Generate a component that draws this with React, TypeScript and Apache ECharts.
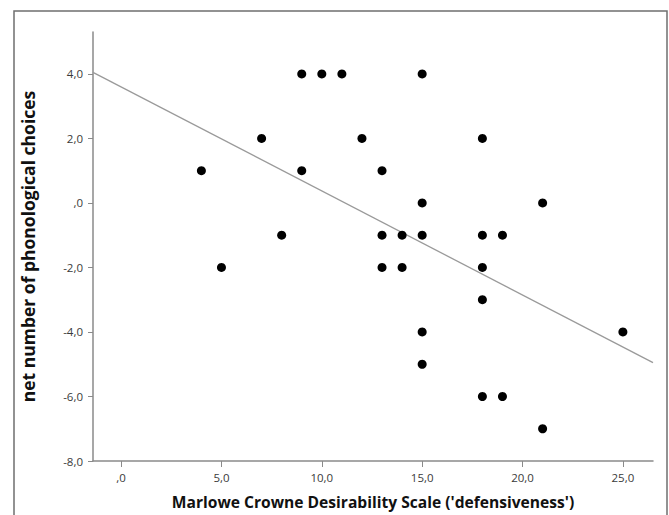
import React, { useEffect, useRef } from "react";
import * as echarts from "echarts";

const points: [number, number][] = [
  [4, 1], [5, -2], [7, 2], [8, -1], [9, 4], [9, 1], [10, 4], [11, 4], [12, 2],
  [13, 1], [13, -1], [13, -2], [14, -1], [14, -2],
  [15, 4], [15, 0], [15, -1], [15, -4], [15, -5],
  [18, 2], [18, -1], [18, -2], [18, -3], [18, -6],
  [19, -1], [19, -6], [21, 0], [21, -7], [25, -4],
];
const fitLine: [number, number][] = [[-1.4, 4.05], [26.5, -4.95]];
const xTicks = [0, 5, 10, 15, 20, 25];
const yTicks = [-8, -6, -4, -2, 0, 2, 4];
const xTitle = "Marlowe Crowne Desirability Scale ('defensiveness')";
const yTitle = "net number of phonological choices";

const fmt = (v: number) => (v === 0 ? ",0" : v.toFixed(1).replace(".", ","));

export default function App() {
  const ref = useRef<HTMLDivElement>(null);
  useEffect(() => {
    const chart = echarts.init(ref.current!, undefined, { renderer: "svg" });
    const font = "'Open Sans', 'DejaVu Sans', sans-serif";
    chart.setOption({
      animation: false,
      backgroundColor: "#fff",
      graphic: [
        {
          type: "rect",
          shape: { x: 14, y: 11, width: 653, height: 530 },
          style: { fill: "none", stroke: "#6f6f6f", lineWidth: 1.5 },
          silent: true,
        },
      ],
      grid: { left: 93, right: 16, top: 32, bottom: 54 },
      xAxis: {
        type: "value",
        min: -1.4,
        max: 26.5,
        name: xTitle,
        nameLocation: "middle",
        nameGap: 33,
        nameTextStyle: { fontFamily: font, fontWeight: "bold", fontSize: 15.6, color: "#111" },
        splitLine: { show: false },
        axisLine: { show: true, onZero: false, lineStyle: { color: "#8a8a8a", width: 1.5 } },
        axisTick: { show: true, customValues: xTicks, length: 6, lineStyle: { color: "#8a8a8a" } },
        axisLabel: {
          customValues: xTicks,
          formatter: fmt,
          fontFamily: font,
          fontSize: 11.5,
          color: "#3a3a3a",
          margin: 10,
        },
      },
      yAxis: {
        type: "value",
        min: -8,
        max: 5.3,
        name: yTitle,
        nameLocation: "middle",
        nameGap: 56,
        nameTextStyle: { fontFamily: font, fontWeight: "bold", fontSize: 17.5, color: "#111" },
        splitLine: { show: false },
        axisLine: { show: true, onZero: false, lineStyle: { color: "#8a8a8a", width: 1.5 } },
        axisTick: { show: true, customValues: yTicks, length: 5, lineStyle: { color: "#8a8a8a" } },
        axisLabel: {
          customValues: yTicks,
          formatter: fmt,
          fontFamily: font,
          fontSize: 11.5,
          color: "#3a3a3a",
          margin: 10,
        },
      },
      series: [
        {
          type: "line",
          data: fitLine,
          symbol: "none",
          lineStyle: { color: "#9a9a9a", width: 1.3 },
          silent: true,
          z: 1,
        },
        {
          type: "scatter",
          data: points,
          symbol: "circle",
          symbolSize: 9,
          itemStyle: { color: "#000", opacity: 1 },
          z: 2,
        },
      ],
    });
    return () => chart.dispose();
  }, []);
  return (
    <div
      ref={ref}
      style={{ position: "fixed", left: 0, top: 0, width: 669, height: 515 }}
    />
  );
}
